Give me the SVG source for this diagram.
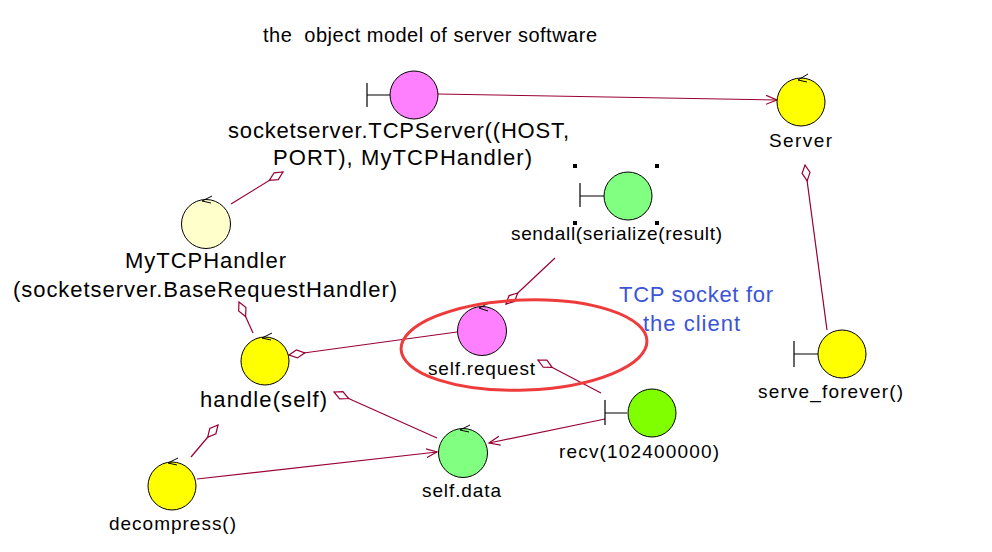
<svg xmlns="http://www.w3.org/2000/svg" width="992" height="552" viewBox="0 0 992 552">
<style>
text{font-family:"Liberation Sans",Arial,sans-serif;fill:#000;white-space:pre;}
.lbl{font-size:19px;text-anchor:start;}
.big{font-size:22px;}
.cir{stroke:#000;stroke-width:1;}
.conn{stroke:#990033;stroke-width:1.2;fill:none;}
.ctl{stroke:#000;stroke-width:1;fill:none;}
.bnd{stroke:#000;stroke-width:1.2;fill:none;}
.blue{fill:#3b55d6;font-size:22px;}
</style>
<defs>
<marker id="dia" markerUnits="userSpaceOnUse" markerWidth="20" markerHeight="12" refX="0" refY="5" viewBox="-1 -1 20 12" orient="auto">
<path d="M0,5 L8,1 L16,5 L8,9 Z" fill="#fff" stroke="#990033" stroke-width="1.2"/>
</marker>
<marker id="arr" markerUnits="userSpaceOnUse" markerWidth="14" markerHeight="12" refX="11" refY="5" viewBox="0 0 14 12" orient="auto">
<path d="M0,0.5 L11,5 L0,9.5" fill="none" stroke="#990033" stroke-width="1.2"/>
</marker>
</defs>
<rect width="992" height="552" fill="#fff"/>
<text x="263" y="42" font-size="20" textLength="334" xml:space="preserve">the  object model of server software</text>

<g id="connectors">
<path class="conn" d="M438,94 L777,100" marker-end="url(#arr)"/>
<path class="conn" d="M283,172 L231,204" marker-start="url(#dia)"/>
<path class="conn" d="M239,302 L253,333" marker-start="url(#dia)"/>
<path class="conn" d="M289,355 L457,332" marker-start="url(#dia)"/>
<path class="conn" d="M506,304 L555,258" marker-start="url(#dia)"/>
<path class="conn" d="M538,360 L601,393" marker-start="url(#dia)"/>
<path class="conn" d="M334,392 L437,438" marker-start="url(#dia)"/>
<path class="conn" d="M218,425 L191,457" marker-start="url(#dia)"/>
<path class="conn" d="M197,479 L437,452" marker-end="url(#arr)"/>
<path class="conn" d="M605,419 L489,443" marker-end="url(#arr)"/>
<path class="conn" d="M805,165 L827,330" marker-start="url(#dia)"/>
</g>

<g id="tcpserver">
<path class="bnd" d="M367,83 V107 M367,95 H390"/>
<circle class="cir" cx="414" cy="95" r="24" fill="#ff80ff"/>
<text class="big" x="228" y="138" textLength="341">socketserver.TCPServer((HOST,</text>
<text class="big" x="273" y="165" textLength="259">PORT), MyTCPHandler)</text>
</g>

<g id="server">
<circle class="cir" cx="801" cy="102" r="24" fill="#ffff00"/>
<path class="ctl" d="M808,74 L798,80 L807,82"/>
<text class="lbl" x="769" y="147" font-size="20" textLength="63">Server</text>
</g>

<g id="mytcphandler">
<circle class="cir" cx="206" cy="224" r="24.5" fill="#ffffcc"/>
<path class="ctl" d="M212,196 L202,201 L211,203"/>
<text class="big" x="125" y="268" textLength="161">MyTCPHandler</text>
<text class="big" x="13" y="297" textLength="384">(socketserver.BaseRequestHandler)</text>
</g>

<g id="sendall">
<path class="bnd" d="M580,183 V207 M580,196 H604"/>
<circle class="cir" cx="628" cy="196" r="24" fill="#80ff80"/>
<rect x="573" y="164" width="4" height="4" fill="#000"/>
<rect x="655" y="164" width="4" height="4" fill="#000"/>
<rect x="573" y="221" width="4" height="4" fill="#000"/>
<rect x="655" y="221" width="4" height="4" fill="#000"/>
<text class="lbl" x="511" y="240" textLength="211">sendall(serialize(result)</text>
</g>

<g id="handle">
<circle class="cir" cx="265" cy="361" r="24" fill="#ffff00"/>
<path class="ctl" d="M272,333 L262,338 L271,340"/>
<text class="big" x="200" y="407" font-size="24" textLength="127">handle(self)</text>
</g>

<g id="selfrequest">
<circle class="cir" cx="482" cy="331" r="24.5" fill="#ff80ff"/>
<path class="ctl" d="M489,303 L479,308 L488,311"/>
<text class="lbl" x="428" y="375" textLength="107">self.request</text>
</g>

<ellipse cx="524" cy="345" rx="123" ry="45" fill="none" stroke="#ee3b3b" stroke-width="3" transform="rotate(-2 524 345)"/>
<text class="blue" x="619" y="302" textLength="154">TCP socket for</text>
<text class="blue" x="643" y="331" textLength="97">the client</text>

<g id="recv">
<path class="bnd" d="M605,400 V425 M605,413 H627"/>
<circle class="cir" cx="652" cy="413" r="24" fill="#80ff00"/>
<text class="lbl" x="559" y="458" textLength="160">recv(102400000)</text>
</g>

<g id="selfdata">
<circle class="cir" cx="463" cy="453" r="24.5" fill="#80ff80"/>
<path class="ctl" d="M470,425 L460,430 L469,432"/>
<text class="lbl" x="422" y="497" textLength="79">self.data</text>
</g>

<g id="decompress">
<circle class="cir" cx="172" cy="486" r="24" fill="#ffff00"/>
<path class="ctl" d="M178,458 L168,463 L177,465"/>
<text class="lbl" x="109" y="530" textLength="127">decompress()</text>
</g>

<g id="serveforever">
<path class="bnd" d="M794,341 V367 M794,354 H818"/>
<circle class="cir" cx="842" cy="354" r="24" fill="#ffff00"/>
<text class="lbl" x="758" y="398" textLength="145">serve_forever()</text>
</g>
</svg>
